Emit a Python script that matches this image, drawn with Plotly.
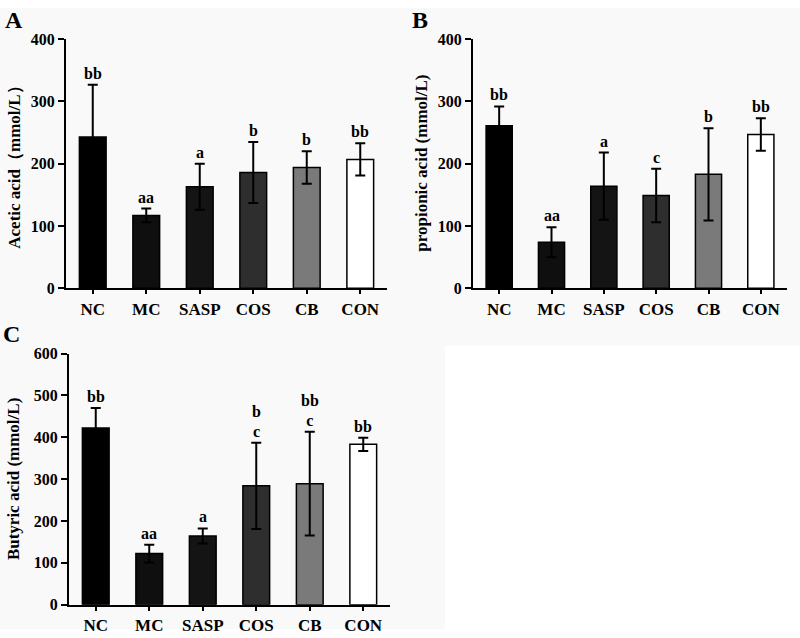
import plotly.graph_objects as go

categories = ["NC", "MC", "SASP", "COS", "CB", "CON"]
bar_colors = ["#000000", "#0f0f0f", "#141414", "#2e2e2e", "#7a7a7a", "#ffffff"]

acetic_mean = [243, 117, 163, 186, 194, 207]
acetic_sd = [84, 11, 37, 49, 26, 26]
acetic_letters = ["bb", "aa", "a", "b", "b", "bb"]

propionic_mean = [261, 74, 164, 149, 183, 247]
propionic_sd = [31, 24, 54, 43, 74, 26]
propionic_letters = ["bb", "aa", "a", "c", "b", "bb"]

butyric_mean = [422, 122, 164, 284, 289, 383]
butyric_sd = [48, 21, 18, 103, 124, 16]
butyric_letters = ["bb", "aa", "a", "b\nc", "bb\nc", "bb"]

FONT = "Liberation Serif"
W, H = 800, 638

panels = [
    dict(mean=acetic_mean, sd=acetic_sd, letters=acetic_letters,
         title="Acetic acid（mmol/L）", yrange=[0, 400], dtick=100,
         px=(66, 387), py=(32, 288), tag="A", tagpos=(3, -3), titlex=15),
    dict(mean=propionic_mean, sd=propionic_sd, letters=propionic_letters,
         title="propionic acid (mmol/L)", yrange=[0, 400], dtick=100,
         px=(473, 787), py=(32, 288), tag="B", tagpos=(410, -3), titlex=422),
    dict(mean=butyric_mean, sd=butyric_sd, letters=butyric_letters,
         title="Butyric acid (mmol/L)", yrange=[0, 600], dtick=100,
         px=(69, 390), py=(355, 613), tag="C", tagpos=(1, 320), titlex=13),
]

fig = go.Figure()
annotations = []
layout = {}

for i, p in enumerate(panels):
    n = "" if i == 0 else str(i + 1)
    xa, ya = "x" + n, "y" + n
    fig.add_trace(go.Bar(
        x=categories, y=p["mean"], xaxis=xa, yaxis=ya, width=0.5,
        marker=dict(color=bar_colors, line=dict(color="black", width=1.5)),
        error_y=dict(type="data", array=p["sd"], visible=True,
                     color="black", thickness=2, width=5),
        showlegend=False,
    ))
    xd = [p["px"][0] / W, p["px"][1] / W]
    yd = [1 - p["py"][1] / H, 1 - p["py"][0] / H]
    layout["xaxis" + n] = dict(
        domain=xd, anchor=ya, range=[-0.5, 5.5], type="category",
        showline=True, linecolor="black", linewidth=2,
        ticks="outside", ticklen=4, tickwidth=2, tickcolor="black",
        tickfont=dict(family=FONT, size=17, color="black", weight="bold"),
        showgrid=False, zeroline=False, fixedrange=True,
    )
    layout["yaxis" + n] = dict(
        domain=yd, anchor=xa, range=p["yrange"], dtick=p["dtick"],
        showline=True, linecolor="black", linewidth=2,
        ticks="outside", ticklen=6, tickwidth=2, tickcolor="black",
        tickfont=dict(family=FONT, size=16, color="black", weight="bold"),
        showgrid=False, zeroline=False, fixedrange=True,
    )
    annotations.append(dict(
        text=p["title"], xref="paper", yref="paper",
        x=p["titlex"] / W, y=(yd[0] + yd[1]) / 2, textangle=-90,
        showarrow=False, xanchor="center", yanchor="middle",
        font=dict(family=FONT, size=17, color="black", weight="bold"),
    ))
    annotations.append(dict(
        text=p["tag"], xref="paper", yref="paper",
        x=p["tagpos"][0] / W, y=1 - p["tagpos"][1] / H,
        showarrow=False, xanchor="left", yanchor="top",
        font=dict(family=FONT, size=24, color="black", weight="bold"),
    ))
    for c, m, s, lab in zip(categories, p["mean"], p["sd"], p["letters"]):
        txt = "<br>".join(
            '<span style="font-size:16px">%s</span>' % t for t in lab.split("\n"))
        annotations.append(dict(
            text=txt, x=c, y=m + s, xref=xa, yref=ya,
            showarrow=False, xanchor="center", yanchor="bottom", yshift=1,
            font=dict(family=FONT, size=15, color="black", weight="bold"),
        ))

shapes = [
    dict(type="rect", xref="paper", yref="paper", x0=0, x1=1,
         y0=1 - 347 / H, y1=1, fillcolor="#f9f9f9", line=dict(width=0),
         layer="below"),
    dict(type="rect", xref="paper", yref="paper", x0=0, x1=445 / W,
         y0=0, y1=1 - 347 / H, fillcolor="#f9f9f9", line=dict(width=0),
         layer="below"),
]

fig.update_layout(
    width=W, height=H, margin=dict(l=0, r=0, t=0, b=0),
    paper_bgcolor="white", plot_bgcolor="rgba(0,0,0,0)",
    annotations=annotations, shapes=shapes, bargap=0.5,
    **layout,
)

fig.write_html("out.html", config={"displayModeBar": False},
               post_script="document.body.style.margin='0';document.body.style.overflow='hidden';")
